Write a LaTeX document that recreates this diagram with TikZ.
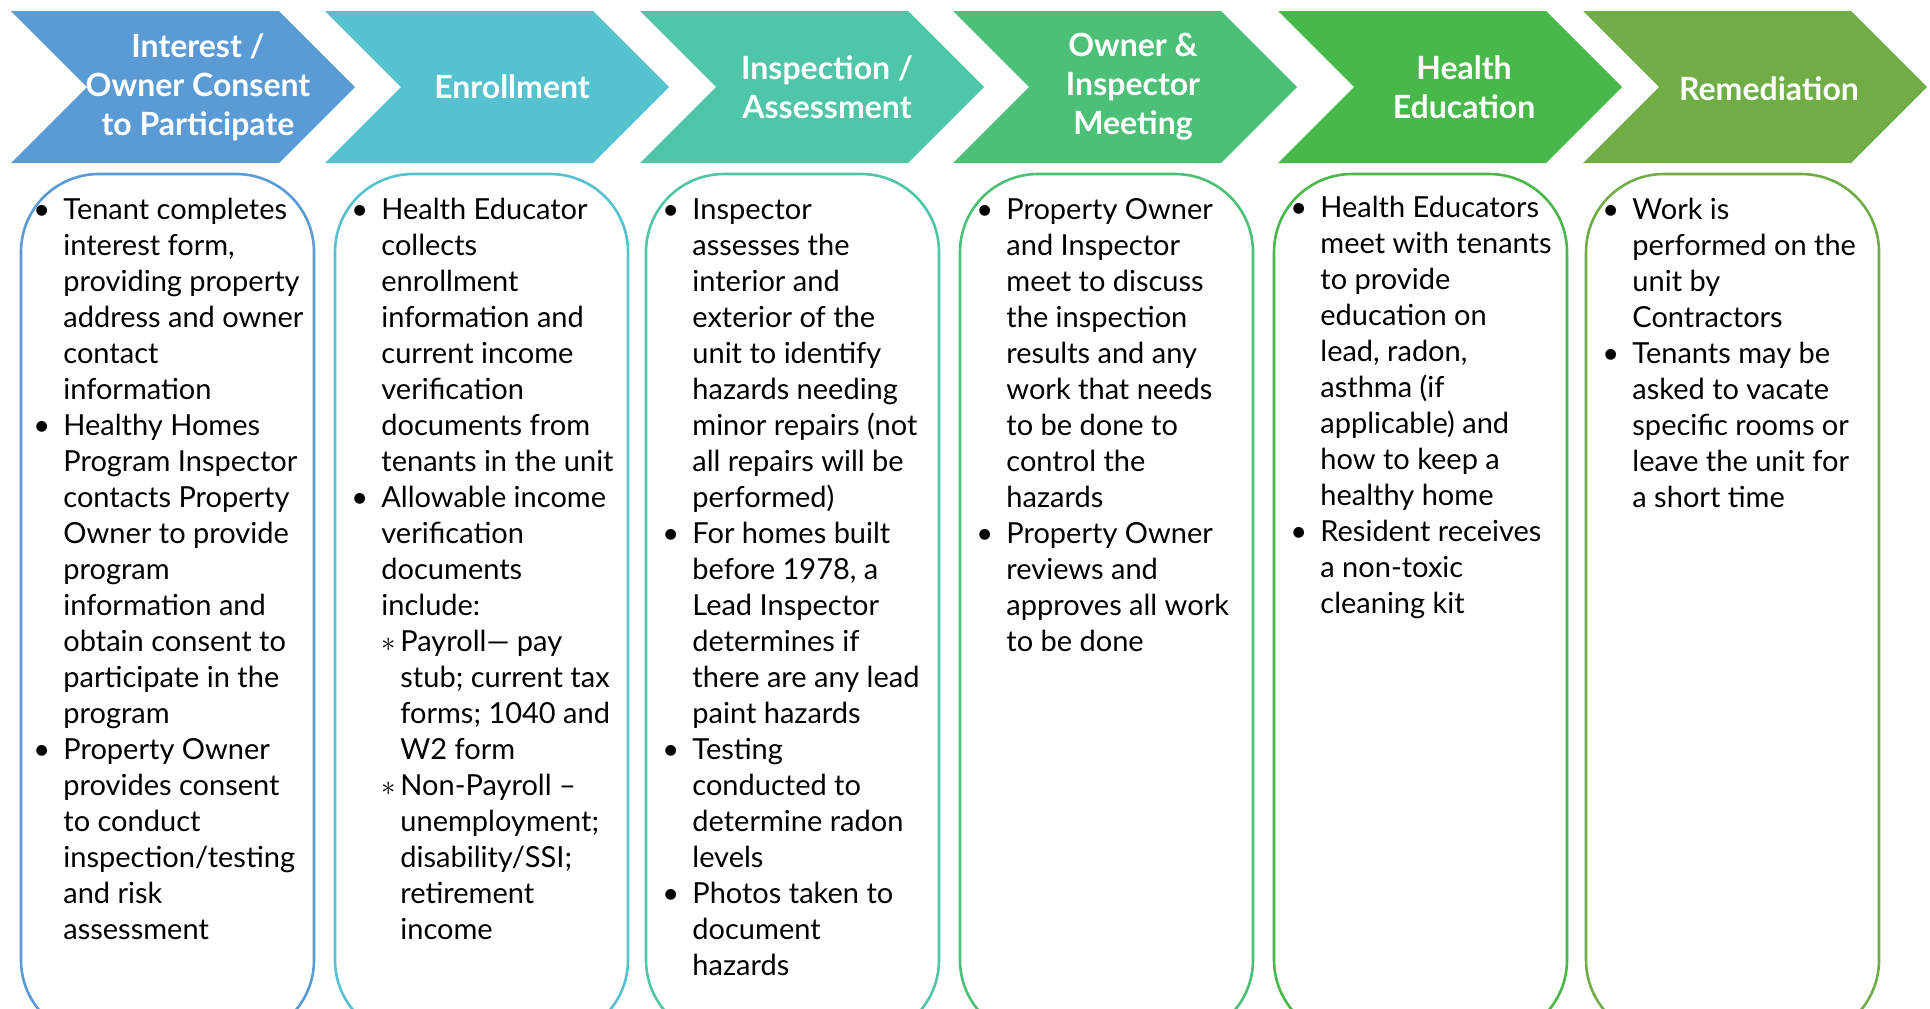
\documentclass[tikz,border=0pt]{standalone}
\usepackage{fontspec}
\usepackage{array}
\setmainfont{Lato}
\definecolor{cA}{HTML}{5B9BD5}
\definecolor{cB}{HTML}{56C1CF}
\definecolor{cC}{HTML}{50C6A8}
\definecolor{cD}{HTML}{4CC076}
\definecolor{cE}{HTML}{49B84A}
\definecolor{cF}{HTML}{70AD47}
\newcommand\bu{\textbullet}
\newcommand\sbu{\makebox[9.5pt][l]{$\ast$}}
\newcommand\subind{\hspace*{9.5pt}}
\newenvironment{blist}{\begin{tabular}[t]{@{}wl{15pt}@{}l@{}}}{\end{tabular}}
\begin{document}
\begin{tikzpicture}[x=0.5pt,y=-0.5pt,
  chevshape/.style={fill=#1, draw=none},
  card/.style={draw=#1, line width=1.3pt, rounded corners=39pt},
  head/.style={text=white, font=\fontsize{16}{19.5}\selectfont\bfseries, align=center, inner sep=0pt, anchor=center},
  body/.style={anchor=base west, inner sep=0pt, text=black, font=\fontsize{14.5}{18}\selectfont}]
\clip (0,0) rectangle (1930,1008);
\fill[white] (0,0) rectangle (1930,1008);
% chevrons
\foreach \x/\c in {11/cA,325/cB,640/cC,953/cD,1278/cE,1583/cF}{
  \fill[chevshape=\c] (\x,11) -- ++(268,0) -- ++(76,76) -- ++(-76,76) -- ++(-268,0) -- ++(76,-76) -- cycle;
}
% cards
\foreach \x/\c in {21/cA,335/cB,646/cC,960/cD,1274/cE,1586/cF}{
  \draw[card=\c] (\x,174) rectangle ++(293,864);
}
% headings
\node[head] (h1) at (198,87) {Interest /\\Owner Consent\\to Participate};
\node[head] (h2) at (512,87) {Enrollment};
\node[head] (h3) at (827,87) {Inspection /\\Assessment};
\node[head] (h4) at (1133,87) {Owner \&\\Inspector\\Meeting};
\node[head] (h5) at (1464,87) {Health\\Education};
\node[head] (h6) at (1769,89) {Remediation};
% bodies
\node[body] (t1) at (33,219) {\begin{blist}
\bu & Tenant completes\\
 & interest form,\\
 & providing property\\
 & address and owner\\
 & contact\\
 & information\\
\bu & Healthy Homes\\
 & Program Inspector\\
 & contacts Property\\
 & Owner to provide\\
 & program\\
 & information and\\
 & obtain consent to\\
 & participate in the\\
 & program\\
\bu & Property Owner\\
 & provides consent\\
 & to conduct\\
 & inspection/testing\\
 & and risk\\
 & assessment
\end{blist}};
\node[body] (t2) at (351,219) {\begin{blist}
\bu & Health Educator\\
 & collects\\
 & enrollment\\
 & information and\\
 & current income\\
 & verification\\
 & documents from\\
 & tenants in the unit\\
\bu & Allowable income\\
 & verification\\
 & documents\\
 & include:\\
 & \sbu Payroll— pay\\
 & \subind stub; current tax\\
 & \subind forms; 1040 and\\
 & \subind W2 form\\
 & \sbu Non-Payroll –\\
 & \subind unemployment;\\
 & \subind disability/SSI;\\
 & \subind retirement\\
 & \subind income
\end{blist}};
\node[body] (t3) at (662,219) {\begin{blist}
\bu & Inspector\\
 & assesses the\\
 & interior and\\
 & exterior of the\\
 & unit to identify\\
 & hazards needing\\
 & minor repairs (not\\
 & all repairs will be\\
 & performed)\\
\bu & For homes built\\
 & before 1978, a\\
 & Lead Inspector\\
 & determines if\\
 & there are any lead\\
 & paint hazards\\
\bu & Testing\\
 & conducted to\\
 & determine radon\\
 & levels\\
\bu & Photos taken to\\
 & document\\
 & hazards
\end{blist}};
\node[body] (t4) at (976,219) {\begin{blist}
\bu & Property Owner\\
 & and Inspector\\
 & meet to discuss\\
 & the inspection\\
 & results and any\\
 & work that needs\\
 & to be done to\\
 & control the\\
 & hazards\\
\bu & Property Owner\\
 & reviews and\\
 & approves all work\\
 & to be done
\end{blist}};
\node[body] (t5) at (1290,217) {\begin{blist}
\bu & Health Educators\\
 & meet with tenants\\
 & to provide\\
 & education on\\
 & lead, radon,\\
 & asthma (if\\
 & applicable) and\\
 & how to keep a\\
 & healthy home\\
\bu & Resident receives\\
 & a non-toxic\\
 & cleaning kit
\end{blist}};
\node[body] (t6) at (1602,219) {\begin{blist}
\bu & Work is\\
 & performed on the\\
 & unit by\\
 & Contractors\\
\bu & Tenants may be\\
 & asked to vacate\\
 & specific rooms or\\
 & leave the unit for\\
 & a short time
\end{blist}};
\end{tikzpicture}
\end{document}
